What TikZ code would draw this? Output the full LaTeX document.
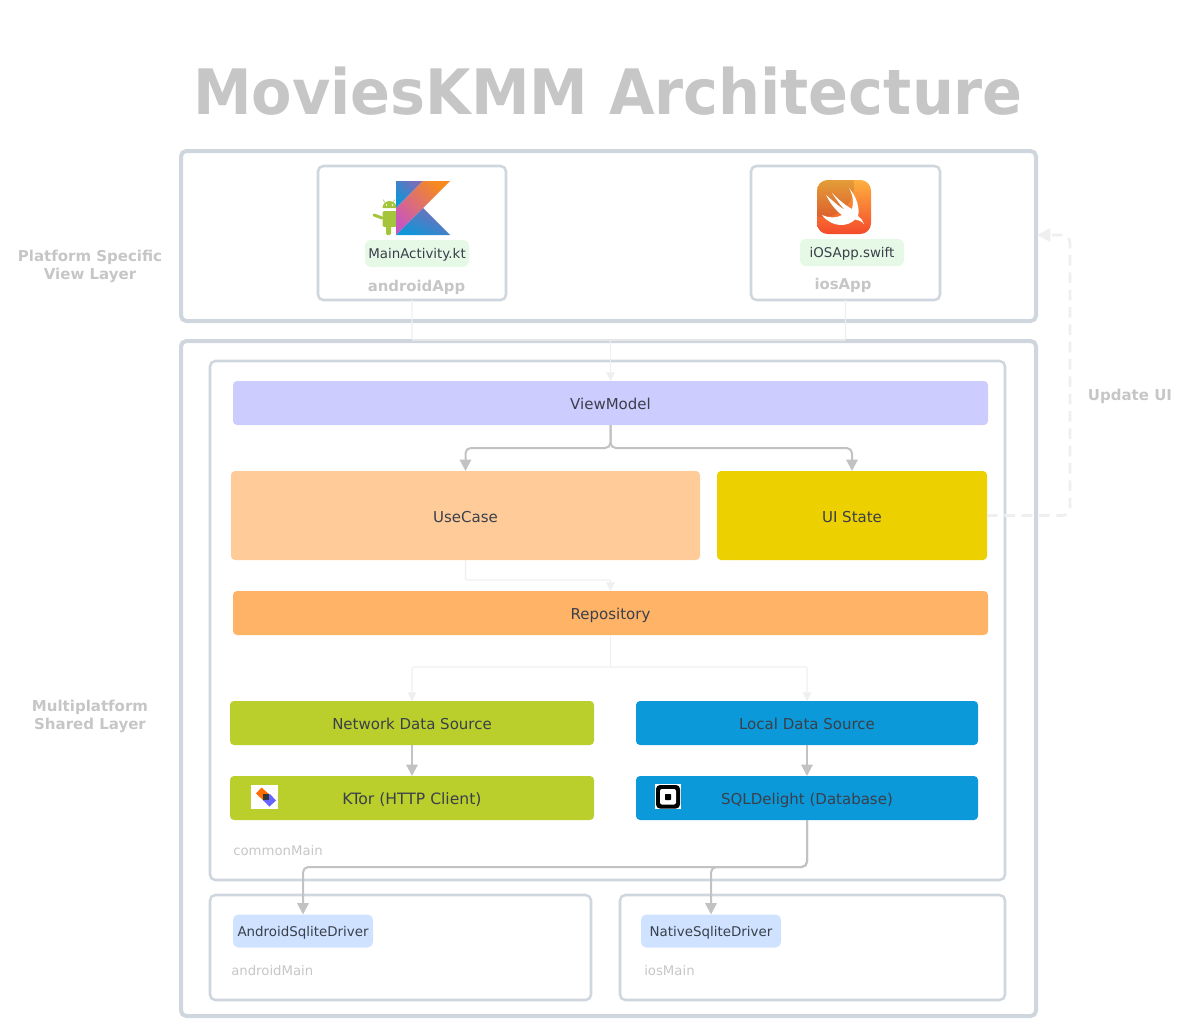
\documentclass[tikz,border=0pt]{standalone}
\usepackage{fontspec}
\setmainfont{DejaVu Sans}
\usetikzlibrary{arrows.meta}
\definecolor{frame}{HTML}{D0D6DE}
\definecolor{lbl}{HTML}{C6C6C6}
\definecolor{conn}{HTML}{C2C2C2}
\definecolor{faint}{HTML}{EFEFEF}
\definecolor{ink}{HTML}{3A3F4A}
\definecolor{vmfill}{HTML}{CCCCFF}
\definecolor{ucfill}{HTML}{FFCC99}
\definecolor{uifill}{HTML}{EDD000}
\definecolor{repofill}{HTML}{FFB366}
\definecolor{limefill}{HTML}{BACF2B}
\definecolor{bluefill}{HTML}{0C99D9}
\definecolor{driverfill}{HTML}{CFE2FF}
\definecolor{pillfill}{HTML}{E6F9E6}
\definecolor{kblue}{HTML}{0D96D8}
\definecolor{kpurple}{HTML}{7A6DB8}
\definecolor{korange}{HTML}{F68A1E}
\definecolor{kpink}{HTML}{C757BC}
\definecolor{droid}{HTML}{A4C439}
\definecolor{swifttop}{HTML}{FDB03F}
\definecolor{swiftbot}{HTML}{F44A2B}
\tikzset{
  x=0.75pt,y=-0.75pt,
  bx/.style 2 args={minimum width=#1*0.75pt,minimum height=#2*0.75pt,inner sep=0pt,outer sep=0pt},
  outerframe/.style={draw=frame,line width=3pt,rounded corners=4pt},
  innerframe/.style={draw=frame,line width=1.9pt,rounded corners=4pt},
  block/.style={rounded corners=3pt,text=ink,font=\fontsize{11.25}{13}\selectfont,text height=10.2pt,text depth=0pt},
  pill/.style={rounded corners=4pt,text=ink,font=\fontsize{10.05}{13}\selectfont,text height=8.2pt,text depth=0pt},
  sidelabel/.style={text=lbl,font=\fontsize{11.25}{13.5}\selectfont\bfseries,align=center,inner sep=0pt},
  applabel/.style={text=lbl,font=\fontsize{11.15}{14}\selectfont\bfseries,inner sep=0pt},
  smalllabel/.style={text=lbl,font=\fontsize{9.95}{13}\selectfont,inner sep=0pt,anchor=west},
  strong/.style={draw=conn,line width=1.5pt,rounded corners=4pt,-{Triangle[length=8.5pt,width=8.5pt]}},
  weak/.style={draw=faint,line width=0.9pt,rounded corners=1pt},
  weakarrow/.style={weak,-{Triangle[length=6.5pt,width=6.5pt]}},
  dashedlink/.style={draw=faint,line width=2pt,dash pattern=on 8pt off 5pt,rounded corners=6pt,-{Triangle[length=10pt,width=10pt]}},
}
\begin{document}
\begin{tikzpicture}
\useasboundingbox (0,0) rectangle (1181,1018);
% title
\node[text=lbl,font=\fontsize{47}{50}\selectfont\bfseries,inner sep=0pt] (title) at (608,91.5) {\scalebox{0.94}[1]{MoviesKMM Architecture}};
% frames
\node[outerframe,bx={855}{170}] (viewlayer) at (608.5,236) {};
\node[outerframe,bx={855}{675}] (sharedlayer) at (608.5,678.5) {};
\node[innerframe,bx={795}{519}] (common) at (607.5,620.5) {};
\node[innerframe,bx={381}{105}] (androidmain) at (400.5,947.5) {};
\node[innerframe,bx={385}{105}] (iosmain) at (812.5,947.5) {};
\node[innerframe,bx={188}{134}] (androidapp) at (412,233) {};
\node[innerframe,bx={189}{134}] (iosapp) at (845.5,233) {};
% blocks
\node[block,fill=vmfill,bx={755}{44}] (vm) at (610.5,403) {ViewModel};
\node[block,fill=ucfill,bx={469}{89}] (usecase) at (465.5,515.5) {UseCase};
\node[block,fill=uifill,bx={270}{89}] (uistate) at (852,515.5) {UI State};
\node[block,fill=repofill,bx={755}{44}] (repo) at (610.5,613) {Repository};
\node[block,fill=limefill,bx={364}{44}] (network) at (412,723) {Network Data Source};
\node[block,fill=bluefill,bx={342}{44}] (local) at (807,723) {Local Data Source};
\node[block,fill=limefill,bx={364}{44},font=\fontsize{11.7}{13}\selectfont] (ktor) at (412,798) {KTor (HTTP Client)};
\node[block,fill=bluefill,bx={342}{44}] (sqld) at (807,798) {SQLDelight (Database)};
\node[pill,fill=driverfill,bx={140}{33}] (adriver) at (303,931) {AndroidSqliteDriver};
\node[pill,fill=driverfill,bx={140}{33}] (ndriver) at (711,931) {NativeSqliteDriver};
\node[pill,fill=pillfill,bx={104}{27}] (mainkt) at (417,253.5) {MainActivity.kt};
\node[pill,fill=pillfill,bx={104}{27}] (iosswift) at (852,252.5) {iOSApp.swift};
% labels
\node[sidelabel] (platlbl) at (90,266) {Platform Specific\\View Layer};
\node[sidelabel] (multilbl) at (90,716) {Multiplatform\\Shared Layer};
\node[sidelabel] (updatelbl) at (1130,396.5) {Update UI};
\node[applabel] (androidlbl) at (416.5,287) {androidApp};
\node[applabel] (ioslbl) at (843,285) {iosApp};
\node[smalllabel] (commonlbl) at (233,851) {commonMain};
\node[smalllabel] (amainlbl) at (231,971) {androidMain};
\node[smalllabel] (imainlbl) at (644,971) {iosMain};
% junction coordinates
\coordinate (j1) at (610.5,340);
\coordinate (j2) at (610.5,448);
\coordinate (j3) at (610.5,580);
\coordinate (j4) at (610.5,667);
\coordinate (j5) at (807,867);
\coordinate (u1) at (1070,515.5);
\coordinate (u2) at (1070,235);
\coordinate (u3) at (1037,235);
% connectors
\draw[weak] (androidapp.south) |- (j1);
\draw[weak] (iosapp.south) |- (j1);
\draw[weakarrow] (j1) -- (vm.north);
\draw[strong] (vm.south) -- (j2) -| (usecase.north);
\draw[strong] (vm.south) -- (j2) -| (uistate.north);
\draw[weakarrow] (usecase.south) |- (j3) -- (repo.north);
\draw[weak] (repo.south) -- (j4);
\draw[weakarrow] (j4) -| (network.north);
\draw[weakarrow] (j4) -| (local.north);
\draw[strong] (network.south) -- (ktor.north);
\draw[strong] (local.south) -- (sqld.north);
\draw[strong] (sqld.south) -- (j5) -| (adriver.north);
\draw[strong] (sqld.south) -- (j5) -| (ndriver.north);
\draw[dashedlink] (uistate.east) -- (u1) -- (u2) -- (u3);
% Android robot
\draw[droid,line width=2.2pt,line cap=round] (374,215) -- (382,218);
\fill[droid] (382.5,208) arc[start angle=180,end angle=360,radius=7] -- cycle;
\fill[droid,rounded corners=1.5pt] (382.5,211) rectangle (397,227);
\fill[droid,rounded corners=1pt] (386,224) rectangle (391,235);
\draw[droid,line width=0.4pt] (385,202.5) -- (383,199.5);
\draw[droid,line width=0.4pt] (393,202.5) -- (395,199.5);
\fill[white] (386.5,205) circle[radius=0.9] (392.5,205) circle[radius=0.9];
% Kotlin logo
\shade[left color=kpurple,right color=kblue,shading angle=-45] (396,181) -- (423,181) -- (396,208) -- cycle;
\shade[left color=korange,right color=kpink,shading angle=-45] (423,181) -- (450,181) -- (423,208) -- (396,235) -- (396,208) -- cycle;
\shade[left color=kpurple,right color=kblue,shading angle=-25] (423,208) -- (450,235) -- (396,235) -- cycle;
% Swift logo
\shade[top color=swifttop,bottom color=swiftbot,rounded corners=8pt] (817,180) rectangle (871,234);
\begin{scope}
  \clip[rounded corners=8pt] (817,180) rectangle (871,234);
  \fill[black,opacity=0.1] (823,186) circle[radius=31];
\end{scope}
\fill[white] (849,188) .. controls (857,197) and (860,209) .. (858,216)
  .. controls (861,218) and (863,221) .. (864,224)
  .. controls (861,221) and (858,219.5) .. (855,219.5)
  .. controls (848,227) and (832,228) .. (822,215)
  .. controls (829,218) and (836,218.5) .. (842,215)
  .. controls (836,211) and (830,203) .. (826,195)
  .. controls (832,200) and (838,206) .. (845,210)
  .. controls (840,205) and (836,199) .. (832,193)
  .. controls (838,199) and (846,206) .. (852,209)
  .. controls (854,203) and (853,195) .. (849,188) -- cycle;
% KTor icon
\fill[white] (251,785) rectangle (278,809);
\fill[orange!85!red] (256,793.5) -- (261.5,787.5) -- (270,795) -- (264,801) -- cycle;
\fill[blue!60!white] (263,800) -- (270,794) -- (276,800.5) -- (269.5,806.5) -- cycle;
\fill[ink!85!black] (262.5,793.5) rectangle (269,800);
% SQLDelight (Square) icon
\fill[white] (655,784) rectangle (681,809);
\fill[black,rounded corners=3pt] (656,785) rectangle (680,808.5);
\fill[white,rounded corners=1.5pt] (660,789) rectangle (676,804.5);
\fill[black,rounded corners=0.5pt] (665,794) rectangle (671,800);
\end{tikzpicture}
\end{document}
